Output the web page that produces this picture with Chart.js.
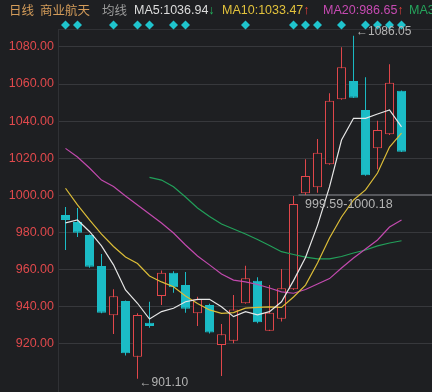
<!DOCTYPE html>
<html><head><meta charset="utf-8">
<script src="https://cdn.jsdelivr.net/npm/chart.js@4.4.0/dist/chart.umd.min.js"></script>
<style>
html,body{margin:0;padding:0;background:#1e1f22;width:432px;height:392px;overflow:hidden;}
#wrap{position:relative;width:432px;height:392px;overflow:hidden;}
canvas{position:absolute;left:0;top:0;}
.h{position:absolute;top:2px;font-size:12.5px;font-family:Arial,"Liberation Sans",sans-serif;white-space:nowrap;line-height:16px;}
.cn{font-family:"Noto Sans CJK SC",sans-serif;font-size:12.5px;}
</style></head><body>
<div id="wrap">
<canvas id="c" width="432" height="392"></canvas>
<span class="h cn" style="left:9px;color:#d49c5a">日线</span>
<span class="h cn" style="left:40px;color:#d49c5a">商业航天</span>
<span class="h cn" style="left:102px;color:#9c9c9c">均线</span>
<span class="h" style="left:134px;color:#dcdcdc">MA5:1036.94<span style="color:#22b25c">↓</span></span>
<span class="h" style="left:222px;color:#e2c23c">MA10:1033.47<span style="color:#e8403c">↑</span></span>
<span class="h" style="left:323px;color:#c64ab2">MA20:986.65<span style="color:#e8403c">↑</span></span>
<span class="h" style="left:409px;color:#25a45c">MA3</span>
</div>
<script>
// ---- data ----
const days   = [0,1,2,3,4,5,6,7,8,9,10,11,12,13,14,15,16,17,18,19,20,21,22,23,24,25,26,27,28];
const opens  = [989.4,985.6,978.6,961.9,935.3,943.0,913.0,931.3,945.7,958.3,951.6,936.4,940.9,919.3,921.6,941.8,954.0,927.0,933.5,949.3,1001.1,1004.3,1016.7,1051.8,1061.6,1046.0,1025.3,1032.9,1056.4];
const highs  = [993.7,993.2,978.9,968.3,949.3,943.3,936.4,942.6,959.4,959.0,958.7,945.3,941.5,930.6,946.3,962.0,955.8,951.6,960.3,999.59,1019.4,1030.4,1055.0,1079.8,1086.05,1063.6,1040.2,1070.6,1056.5];
const lows   = [970.5,977.5,961.0,936.4,925.2,913.7,901.10,928.6,940.9,947.5,936.7,929.5,925.5,902.6,920.2,941.5,931.0,926.8,931.9,949.0,1000.18,1001.4,1016.5,1051.5,1052.5,1010.5,1014.0,1032.5,1023.3];
const closes = [986.7,979.8,961.5,936.7,945.6,914.8,935.5,929.5,958.3,950.4,938.9,943.9,926.1,925.1,938.5,955.3,931.5,936.7,949.9,995.3,1010.4,1023.0,1051.0,1069.0,1052.6,1010.8,1035.2,1060.7,1023.5];
const ma5  = [985.1,986.7,980.5,972.7,962.5,949.0,941.8,933.3,937.3,939.1,942.6,943.9,943.9,939.9,934.6,937.3,935.5,937.3,942.6,954.0,966.5,983.8,1004.5,1029.8,1041.5,1041.5,1043.8,1046.0,1036.94];
const ma10 = [1003.8,994.8,986.7,979.1,972.4,966.7,963.2,956.5,953.3,950.7,945.7,941.7,938.2,936.4,936.8,939.2,939.6,939.9,939.6,945.2,951.6,963.5,977.0,988.3,997.5,1002.9,1012.0,1026.0,1033.47];
const ma20 = [1025.3,1020.6,1014.7,1008.2,1004.7,999.6,994.8,989.9,985.1,979.7,973.2,967.3,962.5,957.6,954.3,953.3,951.9,950.0,947.9,947.2,949.2,952.2,955.1,960.8,966.2,971.1,975.9,982.9,986.65];
const ma30 = [null,null,null,null,null,null,null,1009.7,1008.2,1004.6,999.1,993.2,988.6,984.5,981.8,979.1,976.2,972.9,969.6,968.1,966.7,965.7,965.7,967.0,968.9,970.5,972.7,974.3,975.5];
const signalDays = [0,1,4,6,7,9,10,15,19,20,21,23,25,26,27,28];
const signalLevel = 1091.8;
const yTicks = [920,940,960,980,1000,1020,1040,1060,1080];
const gapRange = [999.59, 1000.18];

// ---- styles ----
const BG = '#1e1f22', RED = '#e2474b', CYAN = '#1bbcc6', GRID = '#37383c';
const plotTopValue = 1089.1;

const up = i => closes[i] >= opens[i];
const bodyData = days.map(i => ({x: i, y: [opens[i], closes[i]]}));
const wickData = days.map(i => ({x: i, y: [lows[i], highs[i]]}));
const line = arr => days.map(i => ({x: i, y: arr[i]}));

const decor = {
  id: 'decor',
  beforeDatasetsDraw(chart) {
    const {ctx, chartArea: a, scales: {x, y}} = chart;
    ctx.save();
    const ty = Math.round(y.getPixelForValue(plotTopValue)) - 0.5;
    ctx.strokeStyle = '#303135';
    ctx.lineWidth = 1;
    ctx.beginPath();
    ctx.moveTo(a.left, ty); ctx.lineTo(a.right, ty);
    ctx.moveTo(a.left + 0.5, ty); ctx.lineTo(a.left + 0.5, a.bottom);
    ctx.stroke();
    // gap band
    const g1 = y.getPixelForValue(gapRange[1]), g0 = y.getPixelForValue(gapRange[0]);
    const gx = x.getPixelForValue(19) + 5;
    ctx.fillStyle = '#57585d';
    ctx.fillRect(gx, Math.round(g1) - 1, a.right - gx, Math.max(2, Math.round(g0 - g1) + 1));
    ctx.restore();
  },
  afterDatasetsDraw(chart) {
    const {ctx, scales: {x, y}} = chart;
    ctx.save();
    ctx.fillStyle = '#b4b4b4';
    ctx.font = '12px Arial, "Liberation Sans", sans-serif';
    ctx.textBaseline = 'middle';
    ctx.textAlign = 'left';
    ctx.fillText('←' + highs[24].toFixed(2), x.getPixelForValue(24) + 2.5, y.getPixelForValue(highs[24]) - 4);
    ctx.fillText('←' + lows[6].toFixed(2), x.getPixelForValue(6) + 2, y.getPixelForValue(lows[6]) + 4);
    ctx.font = '12.5px Arial, "Liberation Sans", sans-serif';
    ctx.fillText(gapRange[0].toFixed(2) + '-' + gapRange[1].toFixed(2), x.getPixelForValue(20) - 0.5, y.getPixelForValue(gapRange[1]) + 10);
    ctx.restore();
  }
};

new Chart(document.getElementById('c'), {
  type: 'bar',
  data: {
    datasets: [
      {type: 'line', data: line(ma5), borderColor: '#e6e6e6', borderWidth: 1.2, pointRadius: 0, order: 0},
      {type: 'line', data: line(ma10), borderColor: '#dcbd38', borderWidth: 1.2, pointRadius: 0, order: 0},
      {type: 'line', data: line(ma20), borderColor: '#c24aae', borderWidth: 1.2, pointRadius: 0, order: 0},
      {type: 'line', data: line(ma30), borderColor: '#22a05a', borderWidth: 1.2, pointRadius: 0, order: 0},
      {type: 'line', data: signalDays.map(i => ({x: i, y: signalLevel})), showLine: false,
        pointStyle: 'rectRot', pointRadius: 4.5, pointBorderWidth: 0,
        pointBackgroundColor: '#1fc4cd', order: 0},
      {type: 'bar', data: bodyData, grouped: false, barThickness: 9, borderWidth: 1,
        borderSkipped: false, inflateAmount: 0, order: 1,
        backgroundColor: days.map(i => up(i) ? BG : CYAN),
        borderColor: days.map(i => up(i) ? RED : CYAN)},
      {type: 'bar', data: wickData, grouped: false, barThickness: 1, borderWidth: 0,
        borderSkipped: false, inflateAmount: 0, order: 2,
        backgroundColor: days.map(i => up(i) ? RED : CYAN)}
    ]
  },
  options: {
    responsive: false,
    animation: false,
    devicePixelRatio: 1,
    events: [],
    layout: {padding: {top: 17, left: 0, right: 0, bottom: 0}, autoPadding: false},
    plugins: {legend: {display: false}, tooltip: {enabled: false}},
    scales: {
      x: {type: 'linear', min: -0.625, max: 30.54, display: false, offset: false, grid: {offset: false}},
      y: {
        min: 893.96, max: 1096.12,
        afterBuildTicks: s => { s.ticks = yTicks.map(v => ({value: v})); },
        afterFit: s => { s.width = 58; s.paddingTop = 0; s.paddingBottom = 0; },
        grid: {color: GRID, drawTicks: false, lineWidth: 1},
        border: {display: false},
        ticks: {color: '#e0494c', padding: 4, font: {family: 'Arial', size: 12.5},
          callback: v => Number(v).toFixed(2)}
      }
    }
  },
  plugins: [decor]
});
</script>
</body></html>
